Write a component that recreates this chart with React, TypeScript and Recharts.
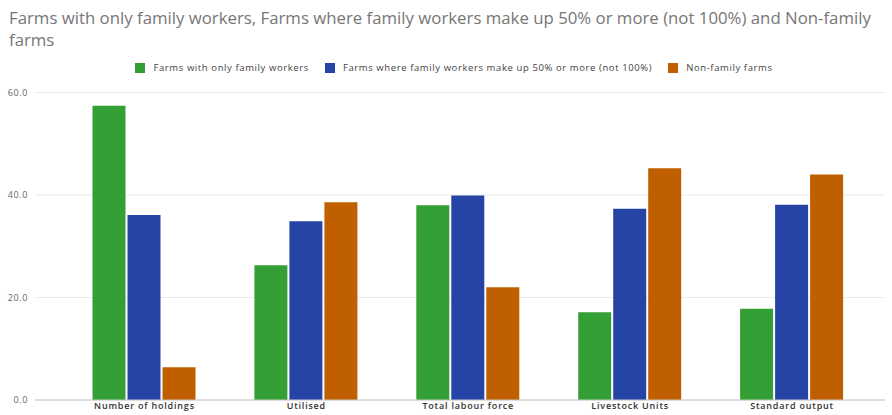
import React from 'react';
import { BarChart, Bar, XAxis, YAxis, CartesianGrid, Legend } from 'recharts';

const categories = ['Number of holdings', 'Utilised', 'Total labour force', 'Livestock Units', 'Standard output'];
const familyOnly = [57.4, 26.3, 38.0, 17.1, 17.8];
const familyMajority = [36.1, 34.9, 39.9, 37.3, 38.1];
const nonFamily = [6.4, 38.6, 22.0, 45.2, 44.0];
const yTicks = [0, 20, 40, 60];

const series = [
  { key: 'familyOnly', name: 'Farms with only family workers', color: '#349f35' },
  { key: 'familyMajority', name: 'Farms where family workers make up 50% or more (not 100%)', color: '#2644a5' },
  { key: 'nonFamily', name: 'Non-family farms', color: '#c05f00' },
];

const data = categories.map((name, i) => ({
  name,
  familyOnly: familyOnly[i],
  familyMajority: familyMajority[i],
  nonFamily: nonFamily[i],
}));

const TITLE =
  'Farms with only family workers, Farms where family workers make up 50% or more (not 100%) and Non-family farms';

function LegendRow() {
  return (
    <div
      style={{
        display: 'flex',
        justifyContent: 'center',
        gap: 16,
        paddingLeft: 16,
        fontFamily: 'Open Sans',
        fontSize: 9.5,
        letterSpacing: 0.6,
        color: '#444',
        lineHeight: '12px',
      }}
    >
      {series.map((s) => (
        <div key={s.key} style={{ display: 'flex', alignItems: 'center' }}>
          <span style={{ display: 'inline-block', width: 10, height: 10, background: s.color, marginRight: 8 }} />
          <span>{s.name}</span>
        </div>
      ))}
    </div>
  );
}

export default function App() {
  return (
    <div style={{ position: 'absolute', left: 0, top: 0, width: 892, height: 415, background: '#fff', overflow: 'hidden' }}>
      <div
        style={{
          position: 'absolute',
          left: 9,
          top: 7,
          width: 880,
          fontFamily: 'Open Sans',
          fontSize: 16.8,
          lineHeight: '22px',
          color: '#767676',
        }}
      >
        {TITLE}
      </div>
      <BarChart
        width={892}
        height={415}
        data={data}
        margin={{ top: 92.5, right: 7, bottom: 0, left: 0 }}
        barSize={33}
        barGap={2}
      >
        <CartesianGrid vertical={false} stroke="#ebebeb" />
        <Legend
          layout="horizontal"
          verticalAlign="middle"
          align="center"
          wrapperStyle={{ top: 62, left: 0, width: 892 }}
          content={() => <LegendRow />}
        />
        <XAxis
          dataKey="name"
          interval={0}
          height={15}
          padding={{ left: 28.5, right: 12 }}
          tickLine={false}
          tickSize={0}
          tickMargin={3}
          axisLine={{ stroke: '#c8c8c8' }}
          tick={{ fontFamily: 'Open Sans', fontSize: 9, fontWeight: 600, fill: '#333', letterSpacing: 0.8 }}
        />
        <YAxis
          width={35}
          domain={[0, 60]}
          ticks={yTicks}
          tickFormatter={(v) => v.toFixed(1)}
          axisLine={false}
          tickLine={false}
          tickSize={0}
          tickMargin={7}
          tick={{ fontFamily: 'Open Sans', fontSize: 9, fill: '#666', letterSpacing: 0.6 }}
        />
        {series.map((s) => (
          <Bar key={s.key} dataKey={s.key} name={s.name} fill={s.color} isAnimationActive={false} />
        ))}
      </BarChart>
    </div>
  );
}
